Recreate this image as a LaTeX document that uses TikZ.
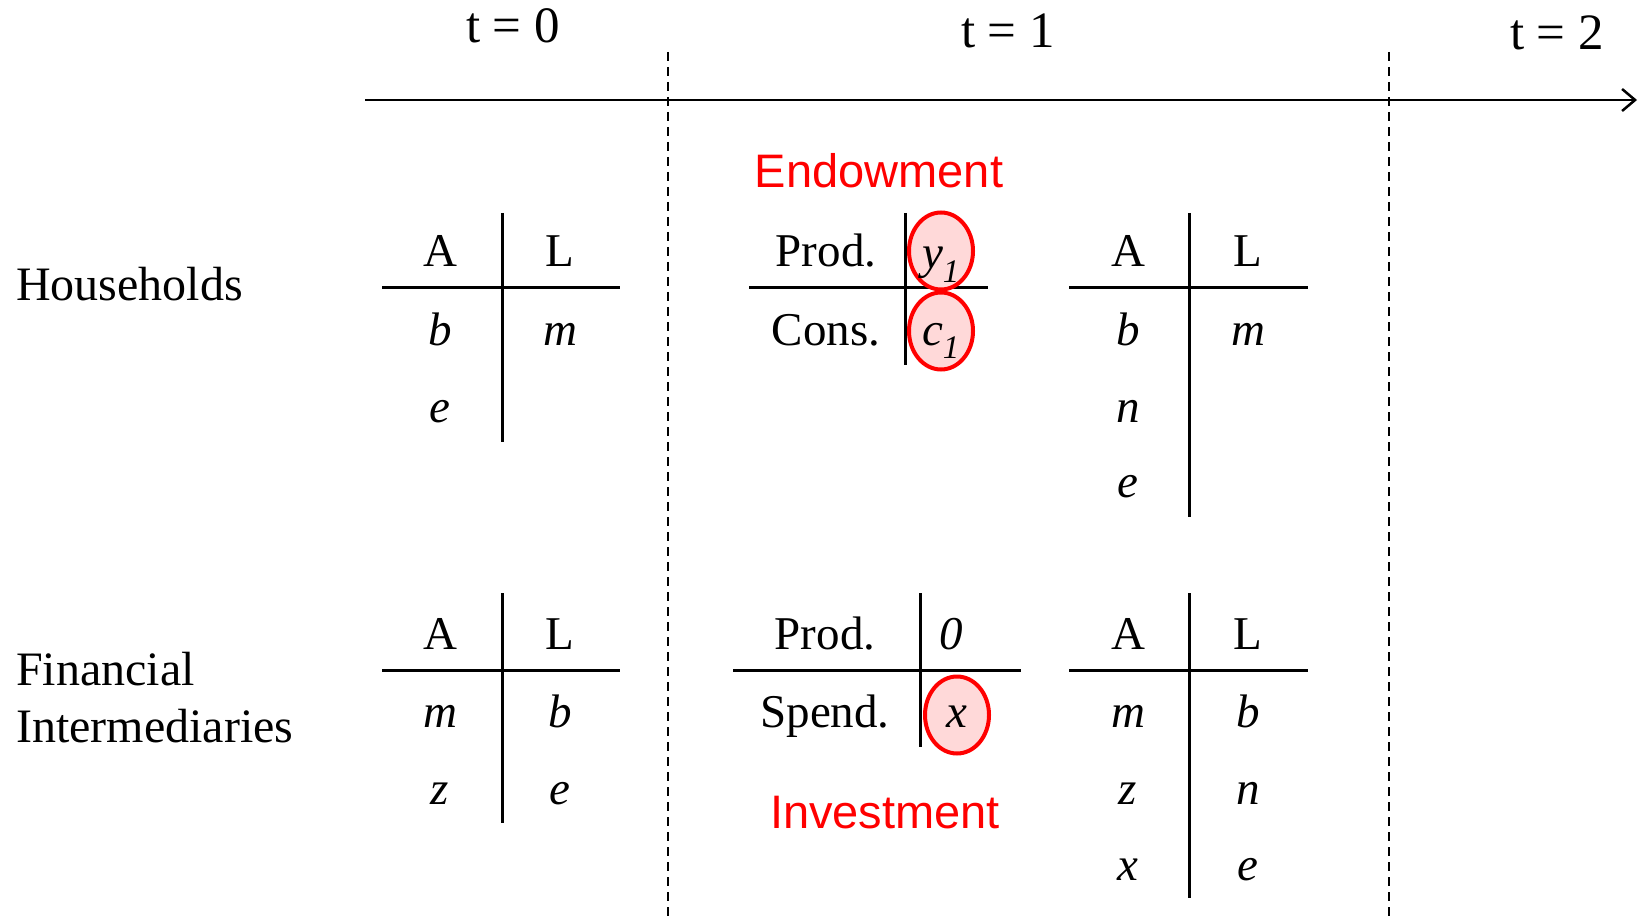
\documentclass[tikz,border=0pt]{standalone}
\usepackage{fontspec}
\setmainfont{Liberation Serif}
\newfontfamily\flowfont{Liberation Sans}
\usetikzlibrary{arrows.meta,shapes.geometric}

\begin{document}
\begin{tikzpicture}[x=1pt,y=-1pt]
    \tikzset{
        entry/.style={anchor=base, inner sep=0pt, font=\fontsize{47}{56}\selectfont},
        timelabel/.style={anchor=base, inner sep=0pt, font=\fontsize{51}{60}\selectfont},
        rowlabel/.style={anchor=base west, inner sep=0pt, font=\fontsize{48}{56}\selectfont},
        tline/.style={line width=3pt},
        flowmark/.style={ellipse, draw=red, line width=4pt, fill=red!15, inner sep=0pt, text depth=0pt,
            minimum width=64pt, minimum height=77pt, font=\fontsize{47}{56}\selectfont\itshape},
        flowlabel/.style={anchor=base, inner sep=0pt, text=red, font=\fontsize{47}{56}\flowfont}
    }
    \useasboundingbox (0,0) rectangle (1638,917);

        % Time axis
        \coordinate (axisL) at (365,100);
        \coordinate (axisR) at (1637,100);
        \draw[line width=2.5pt, -{Straight Barb[length=13pt,width=22pt]}] (axisL) -- (axisR);
        \node[timelabel] (t0) at (513,43) {t = 0};
        \node[timelabel] (t1) at (1008,48) {t = 1};
        \node[timelabel] (t2) at (1557,50) {t = 2};

        % Dashed period boundaries
        \foreach \x in {668,1389} {
            \draw[dashed, line width=2.4pt, dash pattern=on 9pt off 6pt] (\x,52) -- (\x,917);
        }

        % Sector names
        \node[rowlabel] (hh) at (16,301) {Households};
        \node[rowlabel] (fiA) at (16,685) {Financial};
        \node[rowlabel] (fiB) at (16,742) {Intermediaries};

        % Households, t = 0 balance sheet
        \draw[tline] (382,288) -- (620,288);
        \draw[tline] (502,213) -- (502,442);
        \node[entry] (hhA0) at (440,267) {A};
        \node[entry] (hhL0) at (560,267) {L};
        \node[entry] (hhb0) at (440,345) {\textit{b}};
        \node[entry] (hhm0) at (560,345) {\textit{m}};
        \node[entry] (hhe0) at (440,422) {\textit{e}};

        % Households, t = 1 flows
        \draw[tline] (749,288) -- (988,288);
        \draw[tline] (905,213) -- (905,365);
        \node[entry] (hhprod) at (826,267) {Prod.};
        \node[entry] (hhcons) at (826,345) {Cons.};
        \node[flowmark, text height=36pt] (hhy) at (941,251) {y\textsubscript{1}};
        \node[flowmark, text height=28pt] (hhc) at (941,331) {c\textsubscript{1}};
        \node[flowlabel] (endow) at (879,188) {Endowment};

        % Households, t = 1 balance sheet
        \draw[tline] (1069,288) -- (1308,288);
        \draw[tline] (1189,213) -- (1189,517);
        \node[entry] (hhA1) at (1128,267) {A};
        \node[entry] (hhL1) at (1248,267) {L};
        \node[entry] (hhb1) at (1128,345) {\textit{b}};
        \node[entry] (hhm1) at (1248,345) {\textit{m}};
        \node[entry] (hhn1) at (1128,422) {\textit{n}};
        \node[entry] (hhe1) at (1128,497) {\textit{e}};

        % Intermediaries, t = 0 balance sheet
        \draw[tline] (382,670) -- (620,670);
        \draw[tline] (502,593) -- (502,823);
        \node[entry] (fiA0) at (440,649) {A};
        \node[entry] (fiL0) at (560,649) {L};
        \node[entry] (fim0) at (440,727) {\textit{m}};
        \node[entry] (fib0) at (560,727) {\textit{b}};
        \node[entry] (fiz0) at (440,804) {\textit{z}};
        \node[entry] (fie0) at (560,804) {\textit{e}};

        % Intermediaries, t = 1 flows
        \draw[tline] (733,670) -- (1021,670);
        \draw[tline] (920,593) -- (920,747);
        \node[entry] (fiprod) at (825,649) {Prod.};
        \node[entry] (fispend) at (825,727) {Spend.};
        \node[entry] (fizero) at (951,649) {\textit{0}};
        \node[flowmark, text height=24pt] (fix) at (957,715) {x};
        \node[flowlabel] (invest) at (885,828) {Investment};

        % Intermediaries, t = 1 balance sheet
        \draw[tline] (1069,670) -- (1308,670);
        \draw[tline] (1189,593) -- (1189,898);
        \node[entry] (fiA1) at (1128,649) {A};
        \node[entry] (fiL1) at (1248,649) {L};
        \node[entry] (fim1) at (1128,727) {\textit{m}};
        \node[entry] (fib1) at (1248,727) {\textit{b}};
        \node[entry] (fiz1) at (1128,804) {\textit{z}};
        \node[entry] (fin1) at (1248,804) {\textit{n}};
        \node[entry] (fix1) at (1128,880) {\textit{x}};
        \node[entry] (fie1) at (1248,880) {\textit{e}};

    \end{tikzpicture}
\end{document}
